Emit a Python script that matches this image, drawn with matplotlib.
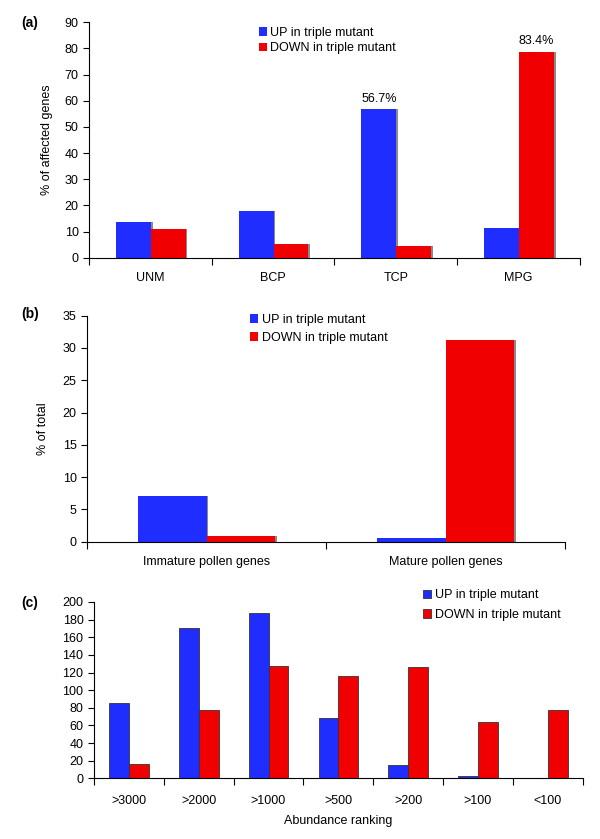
import matplotlib.pyplot as plt
import numpy as np

plt.rcParams["font.family"] = ["Liberation Sans", "DejaVu Sans"]

BLUE = "#1f2dff"
RED = "#f00000"
SHADOW = "#8a8a8a"

# panel (a)
cats_a = ["UNM", "BCP", "TCP", "MPG"]
up_a = [13.8, 17.7, 56.7, 11.5]
down_a = [10.8, 5.4, 4.6, 78.7]
notes_a = {(2, "up"): "56.7%", (3, "down"): "83.4%"}

# panel (b)
cats_b = ["Immature pollen genes", "Mature pollen genes"]
up_b = [7.1, 0.5]
down_b = [0.9, 31.2]

# panel (c)
cats_c = [">3000", ">2000", ">1000", ">500", ">200", ">100", "<100"]
up_c = [86, 171, 188, 68, 15, 3, 0]
down_c = [16, 78, 127, 116, 126, 64, 77]

legend_labels = ["UP in triple mutant", "DOWN in triple mutant"]


def style_axes(ax, n, labels):
    ax.spines["top"].set_visible(False)
    ax.spines["right"].set_visible(False)
    ax.set_xlim(0, n)
    ax.set_xticks(np.arange(n + 1))
    ax.set_xticklabels([])
    ax.set_xticks(np.arange(n) + 0.5, minor=True)
    ax.set_xticklabels(labels, minor=True)
    ax.tick_params(axis="x", which="major", length=5, direction="out")
    ax.tick_params(axis="x", which="minor", length=0, pad=10, labelsize=9)
    ax.tick_params(axis="y", length=4, labelsize=9)


def shadow_bars(ax, x, vals, w, color, off):
    ax.bar(x + off, vals, w, color=SHADOW, align="edge", zorder=1)
    return ax.bar(x, vals, w, color=color, align="edge", zorder=2)


def add_legend(ax, handles, x0, y0, spacing):
    ax.legend(handles, legend_labels, loc="upper left", bbox_to_anchor=(x0, y0),
              bbox_transform=fig.transFigure, frameon=False, fontsize=9,
              handlelength=0.65, handleheight=0.7, handletextpad=0.3,
              labelspacing=spacing, borderpad=0, borderaxespad=0)


fig = plt.figure(figsize=(6, 8.39), dpi=100)

# (a)
ax1 = fig.add_axes([0.1483, 0.6929, 0.8183, 0.2805])
x = np.arange(len(cats_a))
w = 0.284
b_up = shadow_bars(ax1, x + 0.504 - w, up_a, w, BLUE, 0.014)
b_dn = shadow_bars(ax1, x + 0.504, down_a, w, RED, 0.014)
ax1.set_ylim(0, 90)
ax1.set_yticks(range(0, 91, 10))
style_axes(ax1, len(cats_a), cats_a)
ax1.set_ylabel("% of affected genes", fontsize=9, labelpad=8)
for (i, s), txt in notes_a.items():
    v = up_a[i] if s == "up" else down_a[i]
    xc = x[i] + 0.504 - w / 2 if s == "up" else x[i] + 0.504 + w / 2
    ax1.text(xc, v + 1.8, txt, ha="center", va="bottom", fontsize=9)
add_legend(ax1, [b_up, b_dn], 0.431, 0.968, 0.28)
fig.text(0.035, 0.973, "(a)", fontsize=10, fontweight="bold", va="center")

# (b)
ax2 = fig.add_axes([0.145, 0.3544, 0.7967, 0.2693])
x = np.arange(len(cats_b))
w = 0.287
b_up = shadow_bars(ax2, x + 0.5 - w, up_b, w, BLUE, 0.008)
b_dn = shadow_bars(ax2, x + 0.5, down_b, w, RED, 0.008)
ax2.set_ylim(0, 35)
ax2.set_yticks(range(0, 36, 5))
style_axes(ax2, len(cats_b), cats_b)
ax2.set_ylabel("% of total", fontsize=9, labelpad=10)
add_legend(ax2, [b_up, b_dn], 0.4167, 0.6255, 0.44)
fig.text(0.035, 0.626, "(b)", fontsize=10, fontweight="bold", va="center")

# (c)
ax3 = fig.add_axes([0.1565, 0.0723, 0.8145, 0.2102])
x = np.arange(len(cats_c))
w = 0.283
b_up = ax3.bar(x + 0.502 - w, up_c, w, color=BLUE, edgecolor="#333333",
               linewidth=0.6, align="edge")
b_dn = ax3.bar(x + 0.502, down_c, w, color=RED, edgecolor="#333333",
               linewidth=0.6, align="edge")
ax3.set_ylim(0, 200)
ax3.set_yticks(range(0, 201, 20))
style_axes(ax3, len(cats_c), cats_c)
ax3.tick_params(axis="x", which="minor", pad=12)
ax3.set_xlabel("Abundance ranking", fontsize=9, labelpad=6)
add_legend(ax3, [b_up, b_dn], 0.705, 0.2975, 0.6)
fig.text(0.035, 0.281, "(c)", fontsize=10, fontweight="bold", va="center")

plt.savefig("out.png", dpi=100)
